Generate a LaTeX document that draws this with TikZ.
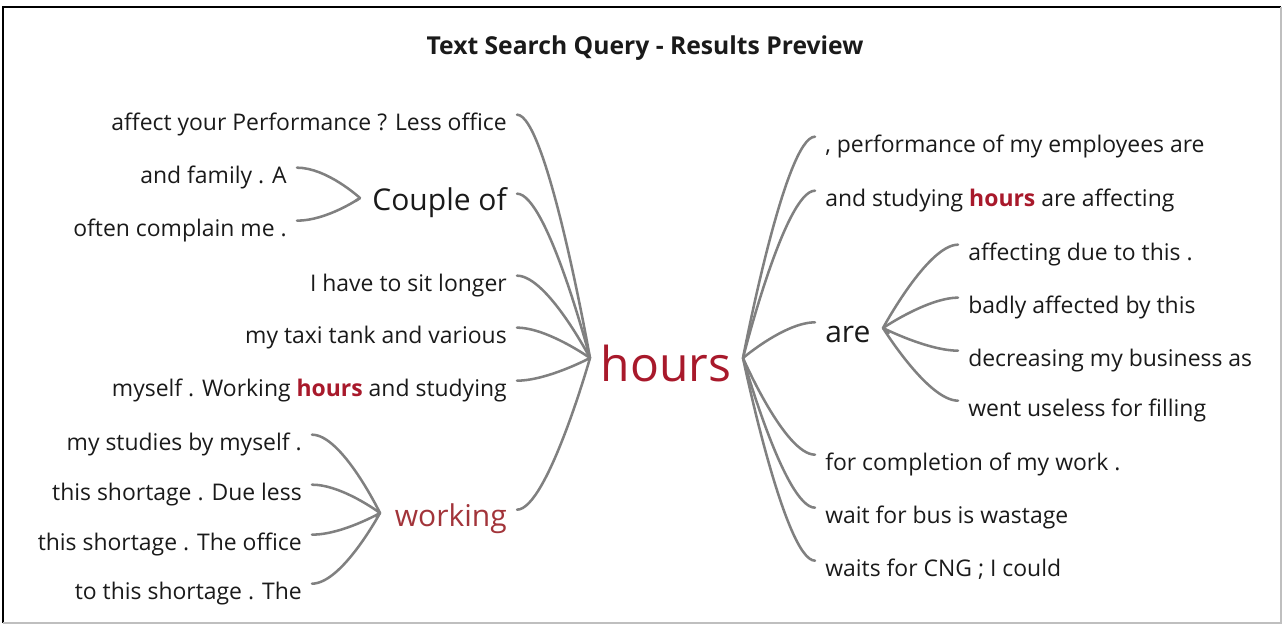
\documentclass[tikz,border=0pt]{standalone}
\usepackage{fontspec}
\setmainfont{Open Sans}

\definecolor{inkgray}{HTML}{1A1A1A}
\definecolor{linkgray}{HTML}{808080}
\definecolor{hitred}{HTML}{A8192B}
\definecolor{softred}{HTML}{A2343A}

\newcommand{\hit}[1]{\textcolor{hitred}{\textbf{#1}}}

\tikzset{
  every node/.style={inner sep=0pt, text=inkgray},
  leaf/.style={font=\fontsize{17.2}{21}\selectfont, inner xsep=7.5pt,
    text height=16pt, text depth=3.5pt},
  lleaf/.style={leaf, anchor=east},
  rleaf/.style={leaf, anchor=west},
  branch/.style={font=\fontsize{22.5}{26}\selectfont, inner xsep=7.5pt,
    text height=19pt, text depth=5pt},
  link/.style={draw=linkgray, line width=1.9pt, line cap=round},
}

\begin{document}
\begin{tikzpicture}[x=0.75pt, y=-0.75pt]
  \useasboundingbox (0,0) rectangle (1284,626);
  \draw[black, line width=1.2pt] (3,623) -- (3,7) -- (1281,7);
  \draw[gray!50, line width=1.2pt] (1281,7) -- (1281,623) -- (3,623);

  \node (title) at (645,48) {\fontsize{18.5}{22}\selectfont\bfseries Text Search Query - Results Preview};

  % centre word
  \node[font=\fontsize{36}{42}\selectfont, text=hitred] (hours) at (666,363) {hours};
  \coordinate (hubl) at (590,358);
  \coordinate (hubr) at (743,358);

  % left side
  \node[lleaf] (la) at (517,122) {affect your Performance ? Less office};
  \node[branch, anchor=east] (couple) at (517,201) {Couple of};
  \coordinate (hubc) at (360,198);
  \node[lleaf] (ca) at (297,175) {and family . A};
  \node[lleaf] (cb) at (297,228) {often complain me .};
  \node[lleaf] (lb) at (517,283) {I have to sit longer};
  \node[lleaf] (lc) at (517,335) {my taxi tank and various};
  \node[lleaf] (ld) at (517,388) {myself . Working \hit{hours} and studying};
  \node[branch, anchor=east, text=softred] (working) at (517,517) {working};
  \coordinate (hubw) at (380,513);
  \node[lleaf] (wa) at (312,442) {my studies by myself .};
  \node[lleaf] (wb) at (312,492) {this shortage . Due less};
  \node[lleaf] (wc) at (312,542) {this shortage . The office};
  \node[lleaf] (wd) at (312,591) {to this shortage . The};

  % right side
  \node[rleaf] (ra) at (815,144) {, performance of my employees are};
  \node[rleaf] (rb) at (815,198) {and studying \hit{hours} are affecting};
  \node[branch, anchor=west] (are) at (815,333) {are};
  \coordinate (huba) at (883,328);
  \node[rleaf] (aa) at (958,252) {affecting due to this .};
  \node[rleaf] (ab) at (958,305) {badly affected by this};
  \node[rleaf] (ac) at (958,358) {decreasing my business as};
  \node[rleaf] (ad) at (958,408) {went useless for filling};
  \node[rleaf] (rc) at (815,462) {for completion of my work .};
  \node[rleaf] (rd) at (815,515) {wait for bus is wastage};
  \node[rleaf] (re) at (815,568) {waits for CNG ; I could};

  \begin{scope}[link]
    \draw (hubl) .. controls +(0,0) and +(30,0) .. ([yshift=5.5pt]la.east);
    \draw (hubl) .. controls +(0,0) and +(30,0) .. ([yshift=5.5pt]couple.east);
    \draw (hubl) .. controls +(0,0) and +(30,0) .. ([yshift=5.5pt]lb.east);
    \draw (hubl) .. controls +(0,0) and +(30,0) .. ([yshift=5.5pt]lc.east);
    \draw (hubl) .. controls +(0,0) and +(30,0) .. ([yshift=5.5pt]ld.east);
    \draw (hubl) .. controls +(0,0) and +(30,0) .. ([yshift=5.5pt]working.east);
    \draw (hubc) .. controls +(0,0) and +(30,0) .. ([yshift=5.5pt]ca.east);
    \draw (hubc) .. controls +(0,0) and +(30,0) .. ([yshift=5.5pt]cb.east);
    \draw (hubc) -- ([xshift=-5pt]couple.west);
    \draw (hubw) .. controls +(0,0) and +(30,0) .. ([yshift=5.5pt]wa.east);
    \draw (hubw) .. controls +(0,0) and +(30,0) .. ([yshift=5.5pt]wb.east);
    \draw (hubw) .. controls +(0,0) and +(30,0) .. ([yshift=5.5pt]wc.east);
    \draw (hubw) .. controls +(0,0) and +(30,0) .. ([yshift=5.5pt]wd.east);
    \draw (hubw) -- ([xshift=-6pt]working.west);

    \draw (hubr) .. controls +(0,0) and +(-30,0) .. ([yshift=5.5pt]ra.west);
    \draw (hubr) .. controls +(0,0) and +(-30,0) .. ([yshift=5.5pt]rb.west);
    \draw (hubr) .. controls +(0,0) and +(-30,0) .. ([yshift=8pt]are.west);
    \draw (hubr) .. controls +(0,0) and +(-30,0) .. ([yshift=5.5pt]rc.west);
    \draw (hubr) .. controls +(0,0) and +(-30,0) .. ([yshift=5.5pt]rd.west);
    \draw (hubr) .. controls +(0,0) and +(-30,0) .. ([yshift=5.5pt]re.west);
    \draw (huba) .. controls +(0,0) and +(-30,0) .. ([yshift=5.5pt]aa.west);
    \draw (huba) .. controls +(0,0) and +(-30,0) .. ([yshift=5.5pt]ab.west);
    \draw (huba) .. controls +(0,0) and +(-30,0) .. ([yshift=5.5pt]ac.west);
    \draw (huba) .. controls +(0,0) and +(-30,0) .. ([yshift=5.5pt]ad.west);
    \draw (huba) -- ([xshift=6pt]are.east);
  \end{scope}
\end{tikzpicture}
\end{document}
